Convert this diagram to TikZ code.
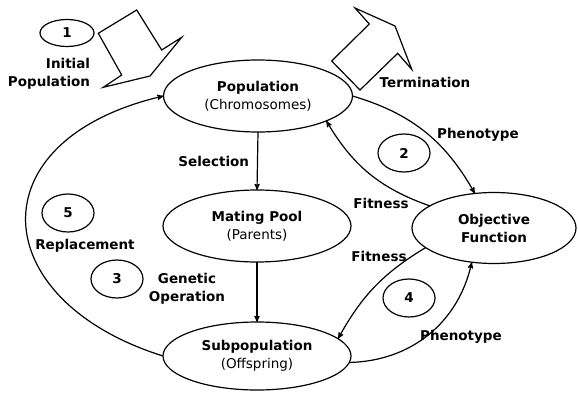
\documentclass[tikz,border=0pt]{standalone}
\usepackage{fontspec}
\setmainfont{DejaVu Sans}
\usetikzlibrary{arrows,shapes.geometric}

\begin{document}
\begin{tikzpicture}[x=1pt,y=1pt,->,>=stealth',line width=1.2pt,
      font=\fontsize{13.5}{18}\selectfont,
      blob/.style={ellipse,draw,inner sep=0pt,outer sep=0pt,align=center},
      num/.style={ellipse,draw,inner sep=0pt,minimum width=52pt,minimum height=38pt,font=\fontsize{13.5}{18}\selectfont\bfseries},
      lbl/.style={font=\fontsize{13.5}{18}\selectfont\bfseries,align=center}]
    \useasboundingbox (0,0) rectangle (578,392);
    \node[blob,minimum width=189pt,minimum height=72pt] (pop) at (258,296) {\textbf{Population}\\(Chromosomes)};
    \node[blob,minimum width=188pt,minimum height=72pt] (mp) at (257,166) {\textbf{Mating Pool}\\(Parents)};
    \node[blob,minimum width=188pt,minimum height=68pt] (sp) at (257,36) {\textbf{Subpopulation}\\(Offspring)};
    \node[blob,minimum width=164pt,minimum height=71pt,font=\fontsize{13.5}{18}\selectfont\bfseries] (of) at (494,164) {Objective\\Function};
    \node[num,minimum width=54pt,minimum height=27pt] (n1) at (67,359) {1};
    \node[num] (n2) at (404,239) {2};
    \node[num] (n3) at (117,113) {3};
    \node[num] (n4) at (409,94) {4};
    \node[num] (n5) at (68,179) {5};
    \node[lbl,align=right,anchor=east] (init) at (94,318) {Initial\\Population};
    \node[lbl] (term) at (425,310) {Termination};
    \node[lbl,anchor=east] (sel) at (253,231) {Selection};
    \node[lbl] (ph1) at (478,257) {Phenotype};
    \node[lbl] (fit1) at (381,189) {Fitness};
    \node[lbl] (fit2) at (379,136) {Fitness};
    \node[lbl] (ph2) at (461,55) {Phenotype};
    \node[lbl] (rep) at (85,146) {Replacement};
    \node[lbl] (gen) at (187,103) {Genetic\\Operation};
    % block arrows
    \filldraw[-,fill=white] (136.7,382) -- (98.3,358.7) -- (121.7,317) -- (103.3,304.7)
      -- (150,316) -- (181.7,354.7) -- (161.7,342) -- cycle;
    \filldraw[-,fill=white] (355,384) -- (369.3,368) -- (331.7,331) -- (360,302)
      -- (397.7,338.7) -- (411.7,322.7) -- (395,366) -- cycle;
    % links
    \draw (pop.south) -- (mp.north);
    \draw (mp.south) -- (sp.north);
    \draw (pop.east) to[bend left=22] (of.119);
    \draw (of.161) to[bend left=20] (pop.-20);
    \draw (of.196) to[bend right=15] (sp.12);
    \draw (sp.-4) to[bend right=38] (of.237);
    \draw (sp.west) .. controls (-15,92) and (-25,252) .. (pop.west);
  \end{tikzpicture}
\end{document}
